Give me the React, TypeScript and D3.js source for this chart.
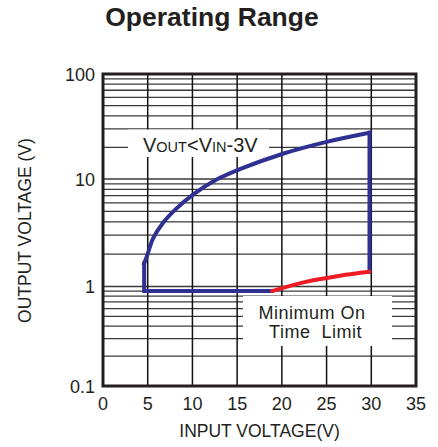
import React, { useEffect, useRef } from "react";
import * as d3 from "d3";

// axis ticks
const xTicks = [0, 5, 10, 15, 20, 25, 30, 35];
const yTicks = [0.1, 1, 10, 100];
const yTickLabels = ["0.1", "1", "10", "100"];
const xGridLines = [5, 10, 15, 20, 25, 30];
const yGridLines = [
  0.2, 0.3, 0.4, 0.5, 0.6, 0.7, 0.8, 0.9, 1,
  2, 3, 4, 5, 6, 7, 8, 9, 10,
  20, 30, 40, 50, 60, 70, 80, 90,
];

// operating area boundary as [Vin, Vout]
const blueFloor = [[18.9, 0.9], [4.6, 0.9], [4.6, 1.64]];
const blueUpper = [
  [4.6, 1.64], [4.9, 1.9], [5.6, 2.8], [6.7, 3.9], [8.2, 5.3],
  [10.1, 7.2], [12.6, 9.8], [15.3, 12.4], [20.2, 17.5], [25.0, 22.6], [29.8, 27.6],
];
const blueRight = [[29.8, 27.6], [29.8, 1.37]];
const minOnTime = [[18.9, 0.9], [22.8, 1.11], [26.5, 1.26], [29.8, 1.37]];

const FONT = "'Liberation Sans', Arial, sans-serif";

const OperatingRange = () => {
  const svgRef = useRef(null);

  useEffect(() => {
    const W = 438, H = 447;
    const margin = { top: 74, right: 22, bottom: 61, left: 103 };
    const width = W - margin.left - margin.right;
    const height = H - margin.top - margin.bottom;

    const x = d3.scaleLinear().domain([0, 35]).range([0, width]);
    // decades in the original are not exactly equal, so piecewise
    const y = d3.scaleLog()
      .domain([0.1, 1, 10, 100])
      .range([height, height - 99.5, height - 207, 0]);

    const root = d3.select(svgRef.current);
    root.selectAll("*").remove();
    root.attr("width", W).attr("height", H);

    root.append("rect").attr("width", W).attr("height", H).attr("fill", "#fff");

    // title
    root.append("text")
      .attr("x", 212).attr("y", 26)
      .attr("text-anchor", "middle")
      .style("font-family", FONT).style("font-weight", "bold").style("font-size", "26.5px")
      .attr("fill", "#231f20")
      .text("Operating Range");

    const svg = root.append("g")
      .attr("transform", `translate(${margin.left},${margin.top})`);

    // grid
    svg.selectAll(".hgrid")
      .data(yGridLines)
      .enter()
      .append("line")
      .attr("x1", 0).attr("x2", width)
      .attr("y1", (d) => y(d)).attr("y2", (d) => y(d))
      .attr("stroke", "#3a3a3a").attr("stroke-width", 1.3);

    svg.selectAll(".vgrid")
      .data(xGridLines)
      .enter()
      .append("line")
      .attr("x1", (d) => x(d)).attr("x2", (d) => x(d))
      .attr("y1", 0).attr("y2", height)
      .attr("stroke", "#111").attr("stroke-width", 1.5);

    // label boxes knock out the grid
    svg.append("rect")
      .attr("x", 128 - margin.left).attr("y", 129.5 - margin.top)
      .attr("width", 141).attr("height", 27.5).attr("fill", "#fff");
    svg.append("rect")
      .attr("x", 243 - margin.left).attr("y", 296 - margin.top)
      .attr("width", 149).attr("height", 50).attr("fill", "#fff");

    // boundary curves
    const straight = d3.line().x((d) => x(d[0])).y((d) => y(d[1]));
    const smooth = d3.line().x((d) => x(d[0])).y((d) => y(d[1])).curve(d3.curveCatmullRom.alpha(0.5));

    [straight(blueFloor), smooth(blueUpper), straight(blueRight)].forEach((p) => {
      svg.append("path")
        .attr("d", p)
        .attr("fill", "none")
        .attr("stroke", "#2e3192")
        .attr("stroke-width", 4)
        .attr("stroke-linejoin", "miter")
        .attr("stroke-linecap", "square");
    });

    svg.append("path")
      .attr("d", smooth(minOnTime))
      .attr("fill", "none")
      .attr("stroke", "#ed1c24")
      .attr("stroke-width", 4)
      .attr("stroke-linecap", "round");

    // annotations
    const vout = svg.append("text")
      .attr("x", 143 - margin.left).attr("y", 151.5 - margin.top)
      .style("font-family", FONT).attr("fill", "#231f20");
    [["V", 20], ["OUT", 14.5], ["<V", 20], ["IN", 14.5], ["-3V", 20]].forEach(([t, s]) => {
      vout.append("tspan").style("font-size", `${s}px`).text(t);
    });

    svg.append("text")
      .attr("x", 312 - margin.left).attr("y", 318.5 - margin.top)
      .attr("text-anchor", "middle")
      .style("font-family", FONT).style("font-size", "18px")
      .style("letter-spacing", "0.5px")
      .attr("fill", "#231f20")
      .text("Minimum On");
    svg.append("text")
      .attr("x", 315.5 - margin.left).attr("y", 338 - margin.top)
      .attr("text-anchor", "middle")
      .style("font-family", FONT).style("font-size", "18px")
      .style("letter-spacing", "0.5px")
      .style("white-space", "pre")
      .attr("fill", "#231f20")
      .text("Time  Limit");

    // frame
    svg.append("rect")
      .attr("width", width).attr("height", height)
      .attr("fill", "none").attr("stroke", "#231f20").attr("stroke-width", 3);

    // tick labels
    svg.selectAll(".xlabel")
      .data(xTicks)
      .enter()
      .append("text")
      .attr("x", (d) => x(d)).attr("y", height + 24)
      .attr("text-anchor", "middle")
      .style("font-family", FONT).style("font-size", "18px")
      .attr("fill", "#231f20")
      .text((d) => d);

    svg.selectAll(".ylabel")
      .data(yTicks)
      .enter()
      .append("text")
      .attr("x", -8).attr("y", (d) => y(d) + 6.5)
      .attr("text-anchor", "end")
      .style("font-family", FONT).style("font-size", "18px")
      .attr("fill", "#231f20")
      .text((d, i) => yTickLabels[i]);

    // axis titles
    root.append("text")
      .attr("x", 259.5).attr("y", 437)
      .attr("text-anchor", "middle")
      .style("font-family", FONT).style("font-size", "17.5px")
      .attr("fill", "#231f20")
      .text("INPUT VOLTAGE(V)");

    root.append("text")
      .attr("transform", "translate(31,230.5) rotate(-90)")
      .attr("text-anchor", "middle")
      .style("font-family", FONT).style("font-size", "17.5px")
      .attr("fill", "#231f20")
      .text("OUTPUT VOLTAGE (V)");
  }, []);

  return <svg ref={svgRef} style={{ position: "absolute", left: 0, top: 0, display: "block" }}></svg>;
};

export default function App() {
  return <OperatingRange />;
}
